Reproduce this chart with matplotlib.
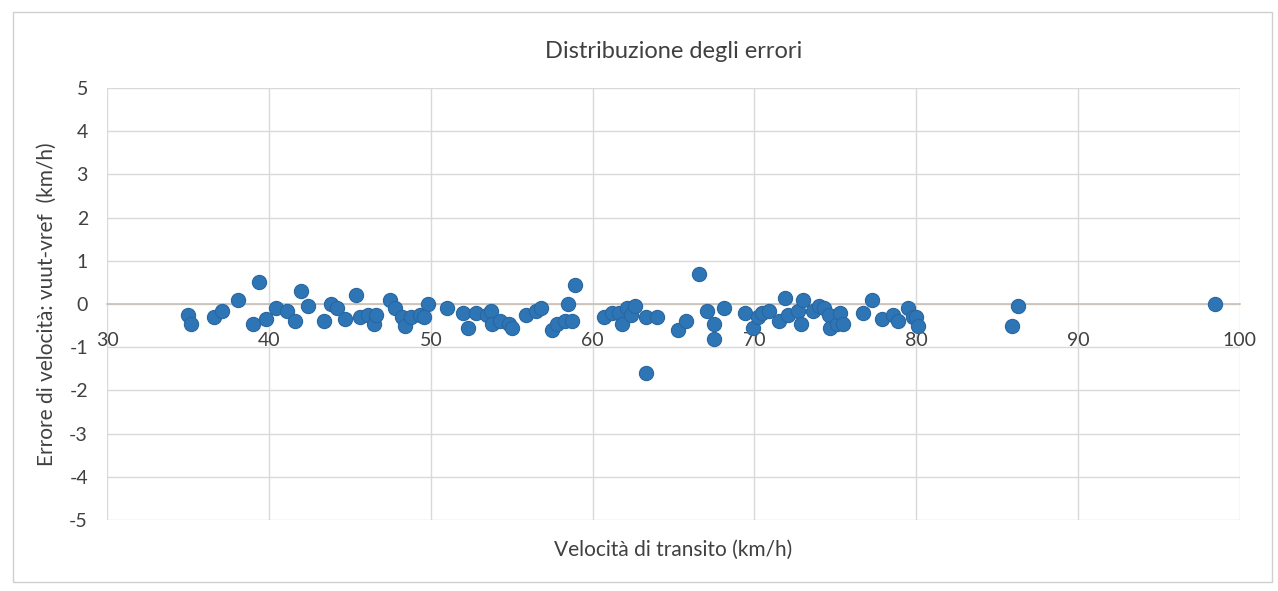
import matplotlib.pyplot as plt
from matplotlib.patches import Rectangle

# velocità di transito (km/h)
speed = [35.0, 35.2, 36.6, 37.1, 38.1, 39.0, 39.4, 39.8, 40.4, 41.1,
         41.6, 42.0, 42.4, 43.4, 43.8, 44.2, 44.7, 45.4, 45.6, 46.1,
         46.5, 46.6, 47.5, 47.8, 48.2, 48.4, 48.8, 49.3, 49.8, 49.6,
         51.0, 52.0, 52.3, 52.8, 53.5, 53.7, 53.8, 54.3, 54.8, 55.0,
         55.9, 56.5, 56.8, 57.5, 57.8, 58.3, 58.5, 58.7, 58.9,
         60.7, 61.2, 61.6, 61.8, 62.1, 62.4, 62.6, 63.3, 63.3, 64.0,
         65.3, 65.8,
         66.6, 67.1, 67.5, 67.5, 68.1, 69.4, 69.9, 70.2, 70.5, 70.9,
         71.5, 71.9, 72.1, 72.7, 73.0, 72.9, 73.6, 74.0, 74.3, 74.6,
         74.7, 75.1, 75.3, 75.5, 76.7, 77.3, 77.9, 78.6, 78.9, 79.5,
         79.8, 80.0, 80.1,
         85.9, 86.3, 98.5]

# errore di velocità vuut-vref (km/h)
error = [-0.25, -0.45, -0.3, -0.15, 0.1, -0.45, 0.5, -0.35, -0.1, -0.15,
         -0.4, 0.3, -0.05, -0.4, 0.0, -0.1, -0.35, 0.2, -0.3, -0.25,
         -0.45, -0.25, 0.1, -0.1, -0.3, -0.5, -0.3, -0.25, 0.0, -0.3,
         -0.1, -0.2, -0.55, -0.2, -0.25, -0.15, -0.45, -0.4, -0.45, -0.55,
         -0.25, -0.15, -0.1, -0.6, -0.45, -0.4, 0.0, -0.4, 0.45,
         -0.3, -0.2, -0.2, -0.45, -0.1, -0.25, -0.05, -0.3, -1.6, -0.3,
         -0.6, -0.4,
         0.7, -0.15, -0.45, -0.8, -0.1, -0.2, -0.55, -0.3, -0.2, -0.15,
         -0.4, 0.15, -0.25, -0.15, 0.1, -0.45, -0.15, -0.05, -0.1, -0.25,
         -0.55, -0.45, -0.2, -0.45, -0.2, 0.1, -0.35, -0.25, -0.4, -0.1,
         -0.3, -0.3, -0.5,
         -0.5, -0.05, 0.0]

x_ticks = [30, 40, 50, 60, 70, 80, 90, 100]
y_ticks = [-5, -4, -3, -2, -1, 0, 1, 2, 3, 4, 5]

plt.rcParams['font.family'] = ['Lato', 'DejaVu Sans']
plt.rcParams['axes.unicode_minus'] = False

fig = plt.figure(figsize=(12.78, 5.91), dpi=100)
ax = fig.add_axes([0.084, 0.12, 0.886, 0.731])

ax.scatter(speed, error, s=105, color='#2e75b6', edgecolors='#2a66a0',
           linewidths=0.8, zorder=3)

ax.set_xlim(30, 100)
ax.set_ylim(-5, 5)
ax.set_xticks(x_ticks)
ax.set_yticks(y_ticks)
ax.grid(True, color='#d9d9d9', linewidth=1.0, zorder=0)

for side in ['top', 'right', 'left']:
    ax.spines[side].set_visible(False)
ax.spines['bottom'].set_position(('data', 0))
ax.spines['bottom'].set_color('#c8c0b8')
ax.spines['bottom'].set_linewidth(1.2)
ax.tick_params(axis='both', length=0, labelsize=14, colors='#404040')
ax.tick_params(axis='x', pad=20)
ax.tick_params(axis='y', pad=14)

ax.set_title('Distribuzione degli errori', fontsize=17, color='#404040', pad=22)
ax.set_xlabel('Velocità di transito (km/h)', fontsize=15, color='#404040')
ax.xaxis.set_label_coords(0.5, -0.045)
ax.set_ylabel('Errore di velocità: vuut-vref  (km/h)', fontsize=15, color='#404040')
ax.yaxis.set_label_coords(-0.045, 0.5)

fig.patches.append(Rectangle((0.01, 0.015), 0.985, 0.965, transform=fig.transFigure,
                             fill=False, edgecolor='#d0d0d0', linewidth=1.0))

fig.savefig('out.png', dpi=100)
